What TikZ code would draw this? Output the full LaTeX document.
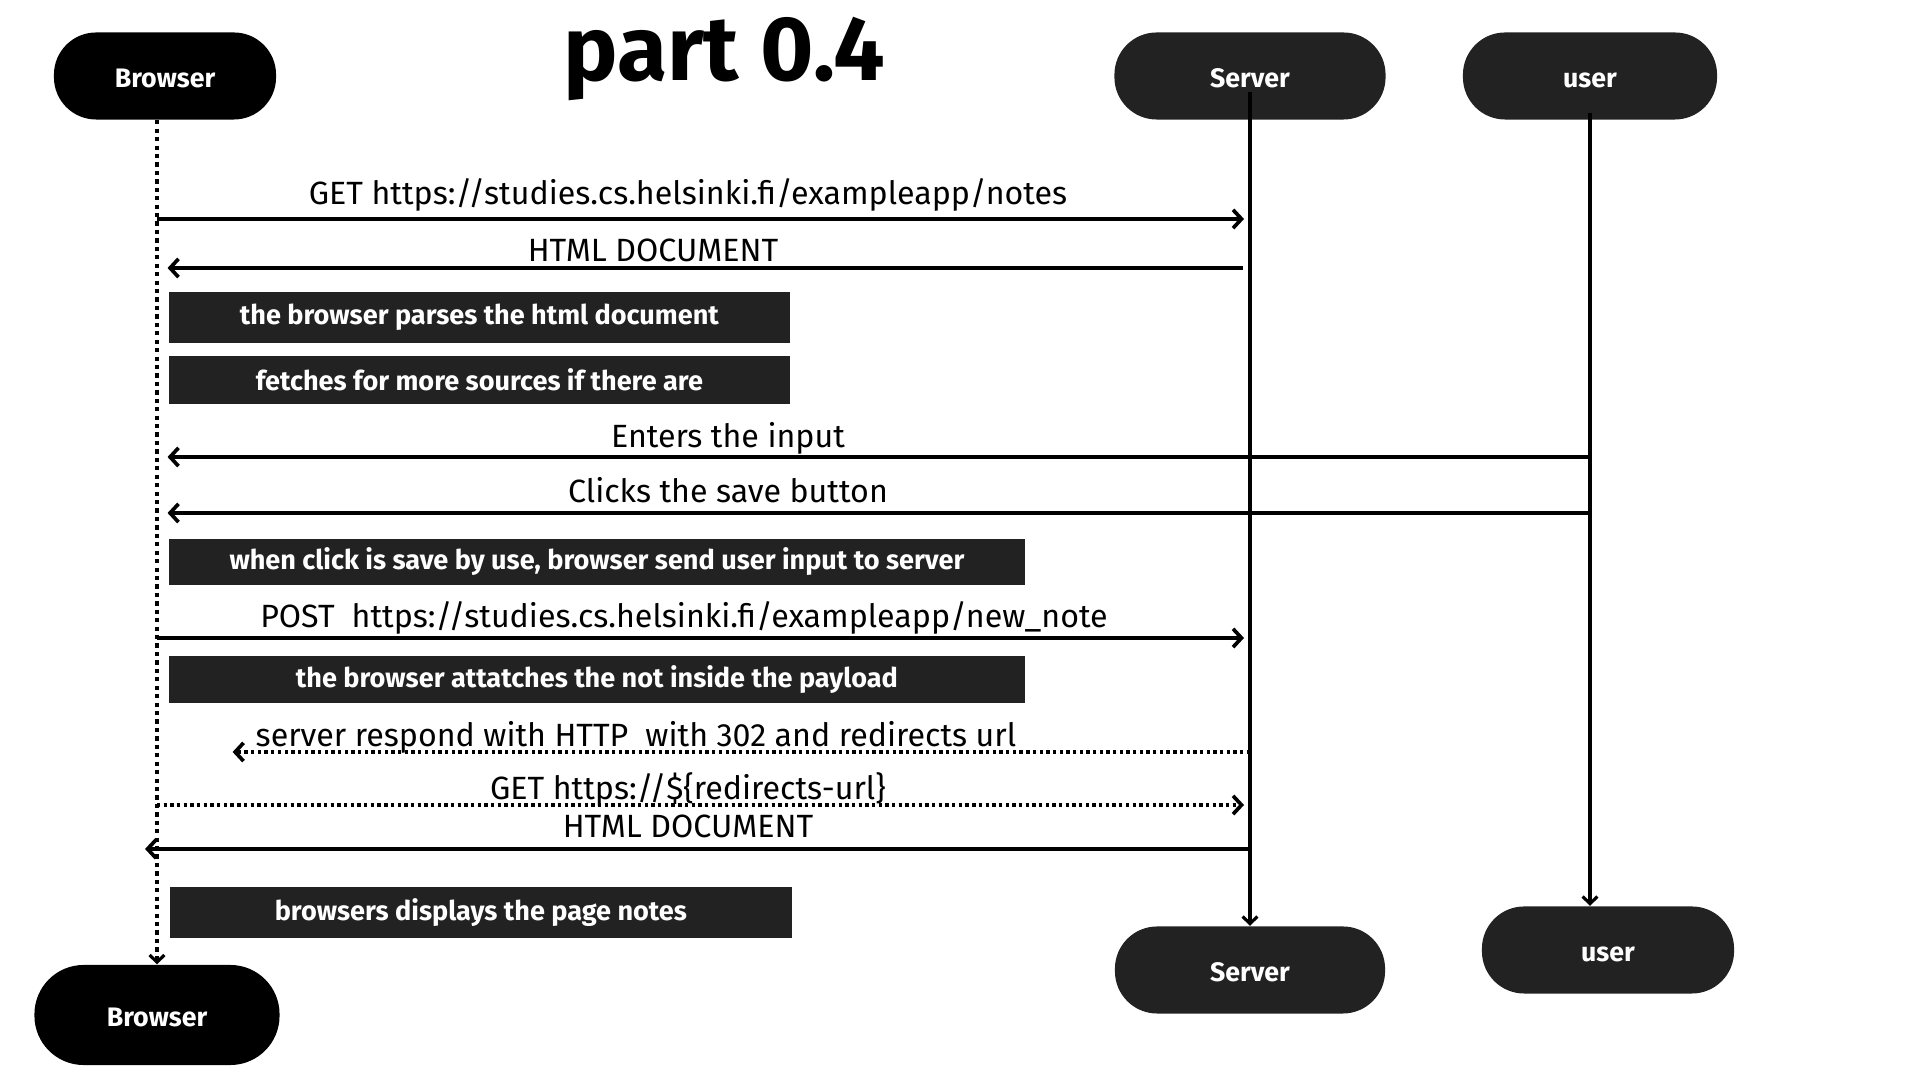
\documentclass[tikz,border=0pt]{standalone}
\usepackage{fontspec}
\setmainfont{Fira Sans}
\usetikzlibrary{arrows.meta, positioning}
\definecolor{darkbox}{HTML}{222222}

\begin{document}
\begin{tikzpicture}[
  x=0.01cm, y=-0.01cm,
  actor/.style={rectangle, rounded corners=12pt, fill=darkbox, text=white,
                font=\fontsize{7.6}{8}\selectfont\bfseries, minimum height=0.87cm, inner sep=0pt,
                text height=1.55ex, text depth=0.35ex},
  note/.style={rectangle, fill=darkbox, text=white, anchor=north west, inner sep=0pt,
               font=\fontsize{7.7}{8}\selectfont\bfseries},
  msg/.style={-{Straight Barb[length=2.4pt, width=5.2pt]}, line width=1.05pt},
  dotmsg/.style={msg, dash pattern=on 0.95pt off 0.95pt},
  msglabel/.style={anchor=base, font=\fontsize{9.15}{10}\selectfont},
  life/.style={-{Straight Barb[length=2pt, width=4.2pt]}, line width=0.9pt}
]

\useasboundingbox (0,0) rectangle (1920,1080);

% Title
\node[font=\fontsize{26}{28}\selectfont\bfseries, anchor=base] (title) at (724,81) {part 0.4};

% Actors on top
\node[actor, fill=black, minimum width=2.22cm] (brTop) at (165,76) {Browser};
\node[actor, minimum width=2.71cm] (srvTop) at (1250,76) {Server};
\node[actor, minimum width=2.54cm] (usrTop) at (1590,76) {user};

% Actors at the bottom
\node[actor, fill=black, minimum width=2.45cm, minimum height=1cm, rounded corners=14pt] (brBot) at (157,1015) {Browser};
\node[actor, minimum width=2.70cm] (srvBot) at (1250,970) {Server};
\node[actor, minimum width=2.52cm] (usrBot) at (1608,950) {user};

% Lifelines
\draw[life, dash pattern=on 1.2pt off 1.2pt] (brTop.south -| brBot.north) -- (brBot.north);
\draw[life] ([yshift=-4.5pt]srvTop.center) -- (srvBot.north);
\draw[life] ([yshift=-10.5pt]usrTop.center) -- (usrTop.center |- usrBot.north);

% Message end points on the lifelines
\foreach \n/\y in {1/219, 2/268, 3/457, 4/513, 5/638, 6/752, 7/805, 8/849} {
  \coordinate (b\n) at (157,\y);
  \coordinate (s\n) at (1250,\y);
  \coordinate (u\n) at (1590,\y);
}

% Page request
\draw[msg, shorten >=1.7pt] (b1) -- (s1);
\node[msglabel] (l1) at (688,205) {GET https://studies.cs.helsinki.fi/exampleapp/notes};
\draw[msg, shorten >=3pt, shorten <=2pt] (s2) -- (b2);
\node[msglabel] (l2) at (653,262) {HTML DOCUMENT};

\node[note, minimum width=6.21cm, minimum height=0.51cm] (n1) at (168,291) {the browser parses the html document};
\node[note, minimum width=6.21cm, minimum height=0.48cm] (n2) at (168,355) {fetches for more sources if there are};

% User actions
\draw[msg, shorten >=3pt] (u3) -- (b3);
\node[msglabel] (l3) at (728,448) {Enters the input};
\draw[msg, shorten >=3pt] (u4) -- (b4);
\node[msglabel] (l4) at (728,503) {Clicks the save button};

\node[note, minimum width=8.56cm, minimum height=0.46cm] (n3) at (168,538) {when click is save by use, browser send user input to server};

% New note
\draw[msg, shorten >=1.7pt] (b5) -- (s5);
\node[msglabel] (l5) at (684,628) {POST\ \ https://studies.cs.helsinki.fi/exampleapp/new\_note};

\node[note, minimum width=8.56cm, minimum height=0.47cm] (n4) at (168,655) {the browser attatches the not inside the payload};

% Redirect
\draw[dotmsg, shorten >=21.5pt] (s6) -- (b6);
\node[msglabel] (l6) at (636,747) {server respond with HTTP\ \ with 302 and redirects url};
\draw[dotmsg, shorten >=1.7pt] (b7) -- (s7);
\node[msglabel] (l7) at (688,800) {GET https://\$\{redirects-url\}};
\draw[msg, shorten >=-3.4pt] (s8) -- (b8);
\node[msglabel] (l8) at (688,838) {HTML DOCUMENT};

\node[note, minimum width=6.22cm, minimum height=0.51cm] (n5) at (169,886) {browsers displays the page notes};

\end{tikzpicture}
\end{document}
